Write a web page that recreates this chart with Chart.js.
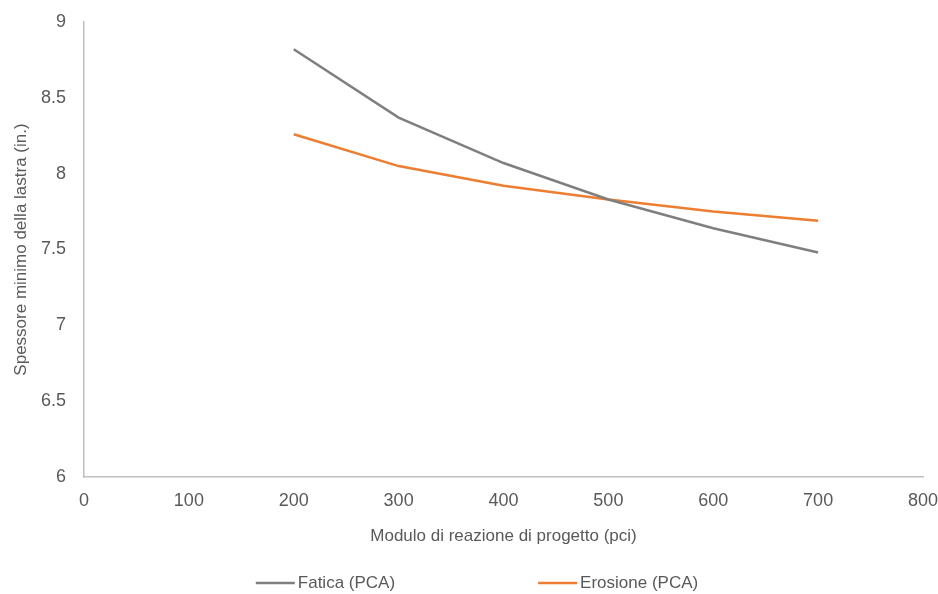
<!DOCTYPE html>
<html>
<head>
<meta charset="utf-8">
<script src="https://cdn.jsdelivr.net/npm/chart.js@4.4.1/dist/chart.umd.min.js"></script>
<style>
  html, body { margin: 0; padding: 0; background: #ffffff; }
  #wrap { width: 938px; height: 594px; position: relative; }
</style>
</head>
<body>
<div id="wrap"><canvas id="chart" width="938" height="594"></canvas></div>
<script>
// Design subgrade modulus (pci)
const moduli = [200, 300, 400, 500, 600, 700];
// Minimum slab thickness (in.) per PCA criterion
const fatica = [8.82, 8.37, 8.07, 7.83, 7.64, 7.48];
const erosione = [8.26, 8.05, 7.92, 7.83, 7.75, 7.69];
const seriesNames = ['Fatica (PCA)', 'Erosione (PCA)'];
const seriesColors = ['#7f7f7f', '#ed7d31'];

const FONT = "'Liberation Sans', Arial, sans-serif";
const TEXT = '#595959';

// Bottom legend: line swatch + label, spaced widely and centred on the canvas
const wideLegend = {
  id: 'wideLegend',
  afterDraw(chart) {
    const ctx = chart.ctx;
    const sets = chart.data.datasets;
    const lineLen = 39, gap = 3, itemGap = 143;
    ctx.save();
    ctx.font = '17px ' + FONT;
    const widths = sets.map(d => lineLen + gap + ctx.measureText(d.label).width);
    const total = widths.reduce((a, b) => a + b, 0) + itemGap * (sets.length - 1);
    let x = chart.width / 2 + 8 - total / 2;
    const y = 583;
    sets.forEach((d, i) => {
      ctx.strokeStyle = d.borderColor;
      ctx.lineWidth = 2.5;
      ctx.beginPath();
      ctx.moveTo(x, y);
      ctx.lineTo(x + lineLen, y);
      ctx.stroke();
      ctx.fillStyle = TEXT;
      ctx.textBaseline = 'middle';
      ctx.textAlign = 'left';
      ctx.fillText(d.label, x + lineLen + gap, y);
      x += widths[i] + itemGap;
    });
    ctx.restore();
  }
};

const makeSeries = (values) => moduli.map((m, i) => ({ x: m, y: values[i] }));

new Chart(document.getElementById('chart'), {
  type: 'line',
  data: {
    datasets: [
      {
        label: seriesNames[0],
        data: makeSeries(fatica),
        borderColor: seriesColors[0],
        backgroundColor: seriesColors[0],
        borderWidth: 2.5,
        pointRadius: 0,
        tension: 0
      },
      {
        label: seriesNames[1],
        data: makeSeries(erosione),
        borderColor: seriesColors[1],
        backgroundColor: seriesColors[1],
        borderWidth: 2.5,
        pointRadius: 0,
        tension: 0
      }
    ]
  },
  options: {
    responsive: false,
    animation: false,
    devicePixelRatio: 1,
    layout: { padding: { left: 0, right: 15, top: 22, bottom: 47 } },
    plugins: {
      legend: { display: false },
      tooltip: { enabled: false }
    },
    scales: {
      x: {
        type: 'linear',
        min: 0,
        max: 800,
        ticks: {
          stepSize: 100,
          color: TEXT,
          font: { family: FONT, size: 18 },
          padding: 13,
          maxRotation: 0
        },
        grid: { display: false, drawTicks: false },
        border: { display: true, color: '#bfbfbf', width: 1.5 },
        title: {
          display: true,
          text: 'Modulo di reazione di progetto (pci)',
          color: TEXT,
          font: { family: FONT, size: 17 },
          padding: { top: 8, bottom: 0 }
        },
        afterFit(scale) {
          scale.height = 70;
          scale.paddingLeft = 0;
          scale.paddingRight = 0;
        }
      },
      y: {
        min: 6,
        max: 9,
        ticks: {
          stepSize: 0.5,
          color: TEXT,
          font: { family: FONT, size: 18 },
          padding: 18,
          callback: (v) => String(v)
        },
        grid: { display: false, drawTicks: false },
        border: { display: true, color: '#bfbfbf', width: 1.5 },
        title: {
          display: true,
          text: 'Spessore minimo della lastra (in.)',
          color: TEXT,
          font: { family: FONT, size: 17 },
          padding: { top: 11, bottom: 0 }
        },
        afterFit(scale) {
          scale.width = 84;
          scale.paddingTop = 0;
          scale.paddingBottom = 0;
        }
      }
    }
  },
  plugins: [wideLegend]
});
</script>
</body>
</html>
